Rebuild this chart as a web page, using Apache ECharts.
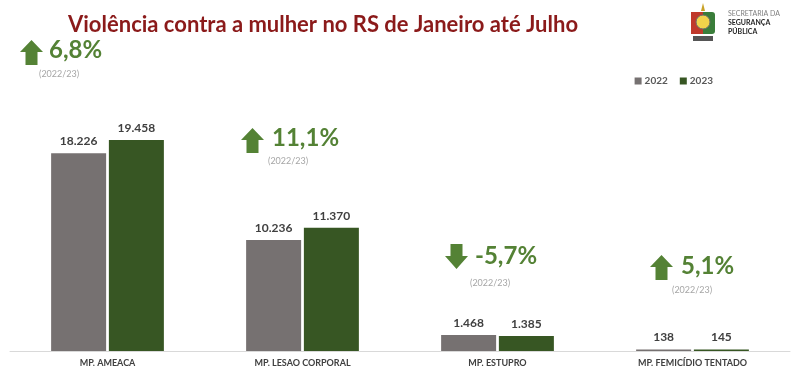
<!DOCTYPE html>
<html><head><meta charset="utf-8">
<script src="https://cdn.jsdelivr.net/npm/echarts@6/dist/echarts.min.js"></script>
<style>html,body{margin:0;padding:0;background:#fff}#c{width:800px;height:371px}</style>
</head><body><div id="c"></div>
<script>
const categories = ['MP. AMEACA', 'MP. LESAO CORPORAL', 'MP. ESTUPRO', 'MP. FEMICÍDIO TENTADO'];
const values2022 = [18226, 10236, 1468, 138];
const values2023 = [19458, 11370, 1385, 145];
const changes = ['6,8%', '11,1%', '-5,7%', '5,1%'];
const seriesNames = ['2022', '2023'];

const FONT = 'Lato, "Open Sans", sans-serif';
const GREEN = '#548235';
const fmt = v => String(v).replace(/\B(?=(\d{3})+(?!\d))/g, '.');

const chart = echarts.init(document.getElementById('c'));

function upArrow(x, y) {
  return { type: 'polygon', shape: { points: [[x + 11.5, y], [x + 23, y + 12], [x + 17.5, y + 12], [x + 17.5, y + 25], [x + 5.5, y + 25], [x + 5.5, y + 12], [x, y + 12]] }, style: { fill: GREEN } };
}
function downArrow(x, y) {
  return { type: 'polygon', shape: { points: [[x + 5.5, y], [x + 17.5, y], [x + 17.5, y + 12], [x + 23, y + 12], [x + 11.5, y + 25], [x, y + 12], [x + 5.5, y + 12]] }, style: { fill: GREEN } };
}
function pct(txt, x, y) {
  return { type: 'text', left: x, top: y, style: { text: txt, fill: GREEN, font: 'bold 24px ' + FONT } };
}
function yr(x, y) {
  return { type: 'text', left: x, top: y, style: { text: '(2022/23)', fill: '#a6a6a6', font: '9px ' + FONT } };
}

const option = {
  animation: false,
  title: {
    text: 'Violência contra a mulher no RS de Janeiro até Julho',
    left: 63, top: 9,
    textStyle: { color: '#8B1A1A', fontSize: 22, fontWeight: 'bold', fontFamily: FONT }
  },
  legend: {
    data: seriesNames, right: 82, top: 71, itemWidth: 7, itemHeight: 7, itemGap: 12,
    icon: 'rect',
    textStyle: { color: '#595959', fontSize: 10, fontWeight: 'bold', fontFamily: FONT, padding: [0, 0, 0, -2] }
  },
  grid: { left: 10, right: 10, top: 134, bottom: 20 },
  xAxis: {
    type: 'category', data: categories,
    axisLine: { lineStyle: { color: '#d9d9d9' } },
    axisTick: { show: false },
    axisLabel: { color: '#404040', fontSize: 9, fontWeight: 'bold', fontFamily: FONT, margin: 8 }
  },
  yAxis: { type: 'value', min: 0, max: 20000, show: false, splitLine: { show: false } },
  series: [
    { name: seriesNames[0], type: 'bar', data: values2022, barWidth: 55, barGap: '5%',
      itemStyle: { color: '#767171' },
      label: { show: true, position: 'top', distance: 6, formatter: p => fmt(p.value), color: '#404040', fontSize: 12, fontWeight: 'bold', fontFamily: FONT } },
    { name: seriesNames[1], type: 'bar', data: values2023, barWidth: 55,
      itemStyle: { color: '#375623' },
      label: { show: true, position: 'top', distance: 6, formatter: p => fmt(p.value), color: '#404040', fontSize: 12, fontWeight: 'bold', fontFamily: FONT } }
  ],
  graphic: [
    upArrow(20, 40), pct(changes[0], 49, 38), yr(39, 70),
    upArrow(241, 128), pct(changes[1], 272, 126), yr(268, 157),
    downArrow(445, 244), pct(changes[2], 475, 244), yr(470, 279),
    upArrow(650, 255), pct(changes[3], 681, 254), yr(672, 286),
    // emblem (simplified)
    { type: 'group', left: 691, top: 3, children: [
      { type: 'polygon', shape: { points: [[16, 0], [18, 8], [14, 8]] }, style: { fill: '#c9a227' } },
      { type: 'rect', shape: { x: 4, y: 9, width: 24, height: 22, r: 3 }, style: { fill: '#3a7d3a' } },
      { type: 'rect', shape: { x: 4, y: 9, width: 12, height: 22 }, style: { fill: '#c0392b' } },
      { type: 'circle', shape: { cx: 16, cy: 19, r: 7 }, style: { fill: '#f2d34b', stroke: '#6b6b6b', lineWidth: 1 } },
      { type: 'rect', shape: { x: 6, y: 33, width: 20, height: 5 }, style: { fill: '#555' } }
    ] },
    { type: 'text', left: 728, top: 10, style: { text: 'SECRETARIA DA', fill: '#7f7f7f', font: '7px ' + FONT } },
    { type: 'text', left: 728, top: 19, style: { text: 'SEGURANÇA', fill: '#262626', font: 'bold 7px ' + FONT } },
    { type: 'text', left: 728, top: 28, style: { text: 'PÚBLICA', fill: '#262626', font: 'bold 7px ' + FONT } }
  ]
};
chart.setOption(option);
</script></body></html>
